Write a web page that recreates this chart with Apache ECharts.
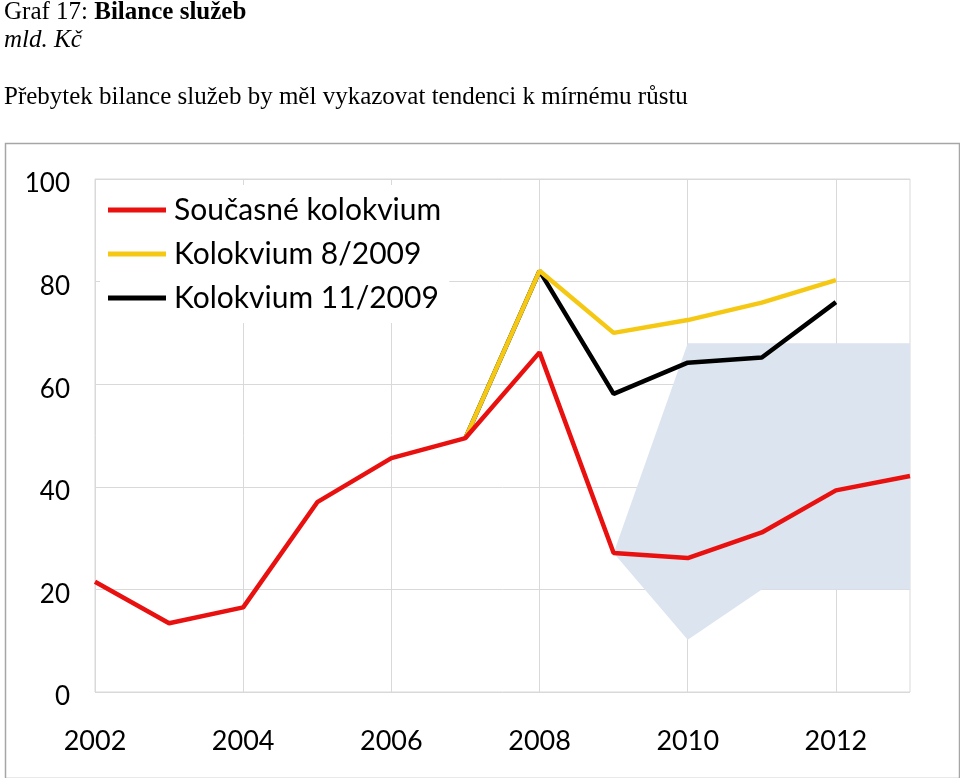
<!DOCTYPE html>
<html>
<head>
<meta charset="utf-8">
<script src="https://cdn.jsdelivr.net/npm/echarts@6/dist/echarts.min.js"></script>
<style>
html,body{margin:0;padding:0;background:#fff;}
#c{width:960px;height:778px;}
</style>
</head>
<body>
<div id="c"></div>
<script>
const years = ['2002','2003','2004','2005','2006','2007','2008','2009','2010','2011','2012','2013'];
const yTicks = [0, 20, 40, 60, 80, 100];
const seriesNames = ['Současné kolokvium', 'Kolokvium 8/2009', 'Kolokvium 11/2009'];
const current = [21.5, 13.4, 16.5, 37.0, 45.6, 49.5, 66.2, 27.1, 26.1, 31.1, 39.3, 42.1];
const aug2009 = [null, null, null, null, null, 49.5, 82.1, 70.0, 72.5, 75.9, 80.3, null];
const nov2009 = [null, null, null, null, null, 49.5, 82.1, 58.1, 64.2, 65.2, 76.0, null];
const bandLower = [null, null, null, null, null, null, null, 27.1, 10.2, 20.0, 20.0, 20.0];
const bandUpper = [null, null, null, null, null, null, null, 27.1, 68.0, 68.0, 68.0, 68.0];
const bandWidth = bandUpper.map((u, i) => (u == null ? null : u - bandLower[i]));

const chart = echarts.init(document.getElementById('c'), null, {renderer: 'canvas'});
const axisFont = 'Lato, "Open Sans", sans-serif';
const serif = '"Liberation Serif", "Times New Roman", serif';
chart.setOption({
  animation: false,
  backgroundColor: '#fff',
  title: [{
    left: 4, top: 0, padding: 0,
    text: '{n|Graf 17: }{b|Bilance služeb}',
    textStyle: {
      fontWeight: 'normal',
      rich: {
        n: {fontFamily: serif, fontSize: 25, fontWeight: 'normal', color: '#000', lineHeight: 25},
        b: {fontFamily: serif, fontSize: 25, fontWeight: 'bold', color: '#000', lineHeight: 25}
      }
    }
  }, {
    left: 4, top: 28, padding: 0,
    text: 'mld. Kč',
    textStyle: {fontFamily: serif, fontSize: 25, fontStyle: 'italic', fontWeight: 'normal', color: '#000', lineHeight: 25}
  }, {
    left: 4, top: 85, padding: 0,
    text: 'Přebytek bilance služeb by měl vykazovat tendenci k mírnému růstu',
    textStyle: {fontFamily: serif, fontSize: 25, fontWeight: 'normal', color: '#000', lineHeight: 25}
  }],
  graphic: [{
    type: 'rect', left: 3, top: 141, z: -1,
    shape: {width: 954, height: 635},
    style: {fill: 'none', stroke: '#a6a6a6', lineWidth: 1.5}
  }],
  legend: {
    data: seriesNames,
    orient: 'vertical',
    left: 100, top: 185,
    padding: [10, 8, 10, 8],
    backgroundColor: '#fff',
    itemWidth: 58, itemHeight: 5, itemGap: 14,
    icon: 'rect',
    textStyle: {fontFamily: axisFont, fontSize: 30, color: '#000', lineHeight: 30, padding: [0, 0, 0, 3]},
    z: 10
  },
  grid: {left: 95, right: 50, top: 179, bottom: 86, show: true, borderColor: '#d9d9d9', borderWidth: 1},
  xAxis: {
    type: 'category', data: years, boundaryGap: false,
    axisLine: {show: false}, axisTick: {show: false},
    axisLabel: {interval: 1, color: '#000', fontFamily: axisFont, fontSize: 27, margin: 36},
    splitLine: {show: true, interval: 1, lineStyle: {color: '#d9d9d9', width: 1}}
  },
  yAxis: {
    type: 'value', min: yTicks[0], max: yTicks[yTicks.length - 1], interval: 20,
    axisLine: {show: false}, axisTick: {show: false},
    axisLabel: {color: '#000', fontFamily: axisFont, fontSize: 26, margin: 25, verticalAlign: 'top', lineHeight: 10},
    splitLine: {show: true, lineStyle: {color: '#d9d9d9', width: 1}}
  },
  series: [
    {name: 'bandLow', type: 'line', stack: 'band', data: bandLower, symbol: 'none',
     lineStyle: {width: 0, opacity: 0}, silent: true, z: 1},
    {name: 'band', type: 'line', stack: 'band', data: bandWidth, symbol: 'none',
     lineStyle: {width: 0, opacity: 0}, areaStyle: {color: '#dbe4ef', opacity: 1}, silent: true, z: 1},
    {name: seriesNames[2], type: 'line', data: nov2009, symbol: 'none', color: '#000',
     lineStyle: {color: '#000', width: 4.5}, z: 3},
    {name: seriesNames[1], type: 'line', data: aug2009, symbol: 'none', color: '#f5c814',
     lineStyle: {color: '#f5c814', width: 4.5}, z: 4},
    {name: seriesNames[0], type: 'line', data: current, symbol: 'none', color: '#e8110f',
     lineStyle: {color: '#e8110f', width: 4.5}, z: 5}
  ]
});
</script>
</body>
</html>
